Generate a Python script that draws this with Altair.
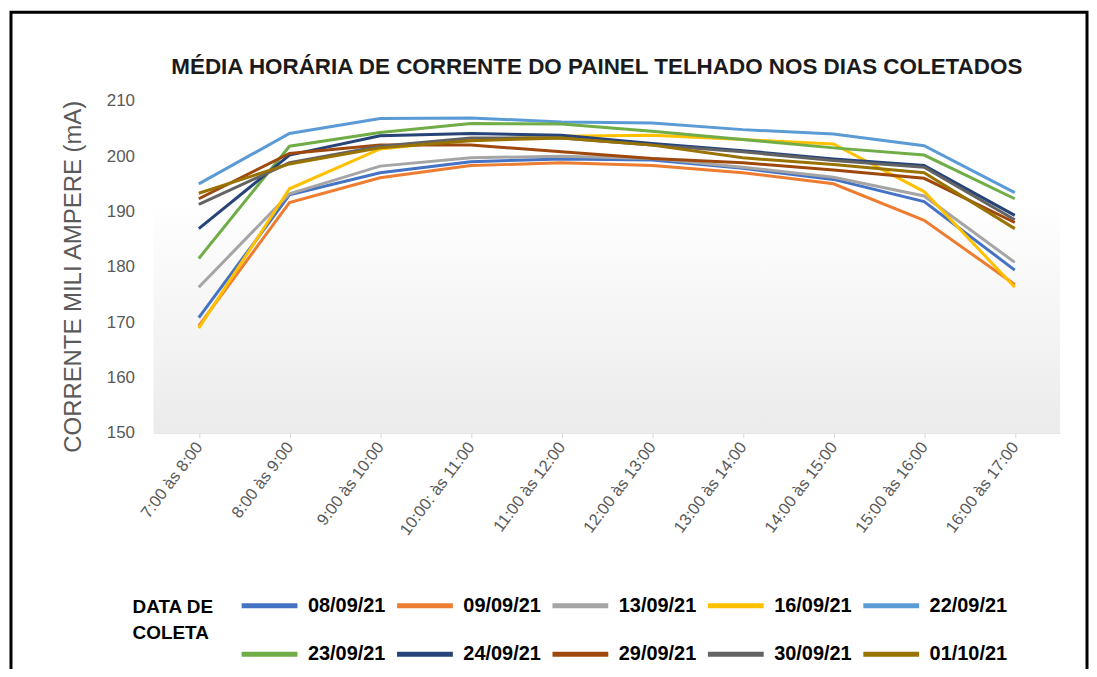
import altair as alt
import pandas as pd

hours = ["7:00 às 8:00", "8:00 às 9:00", "9:00 às 10:00", "10:00: às 11:00",
         "11:00 às 12:00", "12:00 às 13:00", "13:00 às 14:00", "14:00 às 15:00",
         "15:00 às 16:00", "16:00 às 17:00"]

dates = ["08/09/21", "09/09/21", "13/09/21", "16/09/21", "22/09/21",
         "23/09/21", "24/09/21", "29/09/21", "30/09/21", "01/10/21"]

colors = ["#4472C4", "#ED7D31", "#A5A5A5", "#FFC000", "#5B9BD5",
          "#70AD47", "#264478", "#9E480E", "#636363", "#997300"]

d_08_09 = [170.8, 193.0, 197.0, 199.0, 199.5, 199.3, 197.8, 195.8, 191.8, 179.4]
d_09_09 = [169.3, 191.6, 196.1, 198.3, 198.8, 198.3, 197.0, 195.0, 188.4, 176.8]
d_13_09 = [176.3, 193.2, 198.2, 199.7, 200.0, 199.6, 198.0, 196.2, 192.8, 180.8]
d_16_09 = [168.9, 194.1, 201.3, 203.0, 203.6, 203.8, 203.0, 202.2, 193.6, 176.3]
d_22_09 = [195.0, 204.1, 206.8, 206.9, 206.2, 206.0, 204.8, 204.0, 201.9, 193.4]
d_23_09 = [181.5, 201.8, 204.3, 205.9, 205.8, 204.5, 203.0, 201.5, 200.2, 192.3]
d_24_09 = [186.9, 200.2, 203.7, 204.1, 203.8, 202.3, 201.0, 199.5, 198.3, 189.3]
d_29_09 = [192.3, 200.5, 202.0, 202.0, 200.8, 199.6, 198.8, 197.5, 196.0, 188.0]
d_30_09 = [191.3, 198.8, 201.8, 203.3, 203.3, 202.0, 200.8, 199.2, 198.0, 188.5]
d_01_10 = [193.3, 198.6, 201.5, 202.8, 203.3, 202.0, 199.7, 198.5, 197.0, 186.9]

series = [d_08_09, d_09_09, d_13_09, d_16_09, d_22_09,
          d_23_09, d_24_09, d_29_09, d_30_09, d_01_10]

rows = []
for d, vals in zip(dates, series):
    for h, v in zip(hours, vals):
        rows.append({"hora": h, "data": d, "valor": v})
df = pd.DataFrame(rows)

W, H = 910, 333
one = pd.DataFrame({"k": [0]})

bg = alt.Chart(one).mark_rect(
    fill=alt.Gradient(
        gradient="linear", x1=0, x2=0, y1=0, y2=1,
        stops=[alt.GradientStop(color="#ffffff", offset=0.3),
               alt.GradientStop(color="#ebebeb", offset=1)]),
).encode(x=alt.value(0), x2=alt.value(W), y=alt.value(0), y2=alt.value(H))

border = alt.Chart(one).mark_rect(
    filled=False, stroke="black", strokeWidth=3
).encode(x=alt.value(-143), x2=alt.value(937), y=alt.value(-89), y2=alt.value(700))

lines = alt.Chart(df).mark_line(strokeWidth=3).encode(
    x=alt.X("hora:N", sort=hours, scale=alt.Scale(type="point", padding=0.5),
            axis=alt.Axis(title=None, labelAngle=-53, labelFontSize=16.5,
                          labelColor="#595959", labelFont="Liberation Sans",
                          labelPadding=6, grid=True, gridColor="#d9d9d9",
                          domainColor="#d9d9d9", tickColor="#d9d9d9", tickSize=5,
                          labelAlign="right", labelBaseline="middle")),
    y=alt.Y("valor:Q", scale=alt.Scale(domain=[150, 210], nice=False, zero=False),
            axis=alt.Axis(title="CORRENTE MILI AMPERE  (mA)",
                          values=[150, 160, 170, 180, 190, 200, 210],
                          grid=False, domain=False, ticks=False,
                          labelFontSize=17, labelColor="#595959", labelFont="Liberation Sans",
                          labelPadding=19,
                          titleFontSize=24, titleFontWeight="normal", titleColor="#595959",
                          titleFont="Liberation Sans", titleX=-80, titleY=176,
                          titleAngle=270, titleAlign="center", titleBaseline="middle")),
    color=alt.Color("data:N", sort=dates,
                    scale=alt.Scale(domain=dates, range=colors),
                    legend=alt.Legend(
                        orient="none", legendX=-21, legendY=476,
                        direction="horizontal", columns=5,
                        title=["DATA DE", "COLETA"], titleOrient="left",
                        titleFont="Liberation Sans", titleFontSize=19,
                        titleFontWeight="bold", titleColor="black",
                        titleLineHeight=26, titlePadding=25, titleAnchor="middle",
                        labelFont="Liberation Sans", labelFontSize=20,
                        labelFontWeight="bold", labelColor="black",
                        symbolType="stroke", symbolSize=3136, symbolStrokeWidth=5,
                        labelOffset=8, columnPadding=1, rowPadding=8,
                        padding=0, labelLimit=200)),
)

chart = alt.layer(bg, border, lines).properties(
    width=W, height=H,
    title=alt.TitleParams(
        "MÉDIA HORÁRIA DE CORRENTE DO PAINEL TELHADO NOS DIAS COLETADOS",
        anchor="middle", fontSize=22.5, font="Liberation Sans", fontWeight="bold",
        color="#1a1a1a", offset=-79, baseline="middle", dx=-10, frame="group"),
    autosize=alt.AutoSizeParams(type="none"),
    padding={"left": 146, "top": 92, "right": 29, "bottom": 236},
).configure_view(stroke=None)

chart.save("out.html", embed_options={"renderer": "svg", "actions": False})
